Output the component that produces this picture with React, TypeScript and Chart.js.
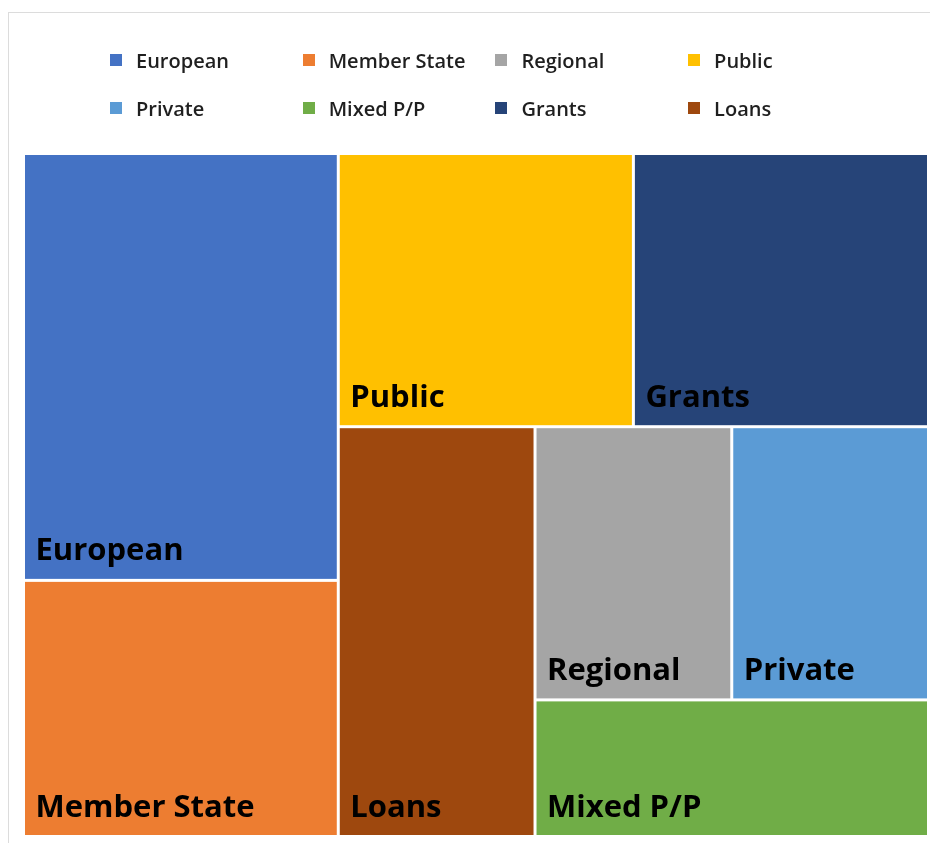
import React, { useEffect, useRef } from "react";
import { Chart, registerables } from "chart.js";

Chart.register(...registerables);

// ---- data ----
const categories = ["European", "Member State", "Regional", "Public", "Private", "Mixed P/P", "Grants", "Loans"];
const values = [25, 15, 10, 15, 10, 10, 15, 15];
const colors = ["#4472C4", "#ED7D31", "#A5A5A5", "#FFC000", "#5B9BD5", "#70AD47", "#264478", "#9E480E"];
// number of items placed in each successive strip of the treemap
const stripSizes = [2, 2, 1, 2, 1];

type Cell = { i: number; x0: number; x1: number; y0: number; y1: number };

function treemapLayout(vals: number[], W: number, H: number): Cell[] {
  const order = vals.map((_, i) => i).sort((a, b) => vals[b] - vals[a] || a - b);
  let remaining = vals.reduce((s, v) => s + v, 0);
  let x = 0, y = 0, w = W, h = H;
  let k = 0;
  const cells: Cell[] = [];
  for (const s of stripSizes) {
    const items = order.slice(k, k + s);
    k += s;
    if (!items.length) break;
    const stripSum = items.reduce((acc, i) => acc + vals[i], 0);
    const frac = stripSum / remaining;
    if (w >= h) {
      const sw = w * frac;
      let yy = y;
      for (const i of items) {
        const ih = (h * vals[i]) / stripSum;
        cells.push({ i, x0: x, x1: x + sw, y0: yy, y1: yy + ih });
        yy += ih;
      }
      x += sw;
      w -= sw;
    } else {
      const sh = h * frac;
      let xx = x;
      for (const i of items) {
        const iw = (w * vals[i]) / stripSum;
        cells.push({ i, x0: xx, x1: xx + iw, y0: y, y1: y + sh });
        xx += iw;
      }
      y += sh;
      h -= sh;
    }
    remaining -= stripSum;
  }
  // normalise to 0..100 scale units
  return cells.map((c) => ({
    i: c.i,
    x0: (c.x0 / W) * 100,
    x1: (c.x1 / W) * 100,
    y0: (c.y0 / H) * 100,
    y1: (c.y1 / H) * 100,
  }));
}

const treemapPlugin = {
  id: "treemapCells",
  beforeDatasetsDraw(chart: any) {
    const { ctx, chartArea, scales } = chart;
    const xs = scales.x;
    const ys = scales.y;
    const ds = chart.data.datasets[0];
    const vals: number[] = ds.treeValues;
    const labels: string[] = ds.treeLabels;
    const cols: string[] = ds.treeColors;
    const cells = treemapLayout(vals, chartArea.right - chartArea.left, chartArea.bottom - chartArea.top);
    const gap = 1.5;
    ctx.save();
    for (const c of cells) {
      const l = xs.getPixelForValue(c.x0);
      const r = xs.getPixelForValue(c.x1);
      const t = ys.getPixelForValue(c.y0);
      const b = ys.getPixelForValue(c.y1);
      ctx.fillStyle = cols[c.i];
      ctx.fillRect(l + gap, t + gap, r - l - 2 * gap, b - t - 2 * gap);
    }
    ctx.fillStyle = "#000000";
    ctx.font = "bold 31px 'Open Sans', sans-serif";
    ctx.textBaseline = "alphabetic";
    ctx.textAlign = "left";
    for (const c of cells) {
      const l = xs.getPixelForValue(c.x0);
      const b = ys.getPixelForValue(c.y1);
      ctx.fillText(labels[c.i], l + 12, b - 20);
    }
    ctx.restore();
  },
};

const legendCols = 4;

export default function App() {
  const canvasRef = useRef<HTMLCanvasElement | null>(null);

  useEffect(() => {
    if (!canvasRef.current) return;
    const chart = new Chart(canvasRef.current, {
      type: "scatter",
      data: {
        datasets: [
          {
            label: "Funding",
            data: [],
            treeValues: values,
            treeLabels: categories,
            treeColors: colors,
          } as any,
        ],
      },
      options: {
        animation: false,
        responsive: true,
        maintainAspectRatio: false,
        layout: { padding: { left: 23.5, right: 1.5, top: 153.5, bottom: 6.5 } },
        plugins: { legend: { display: false }, tooltip: { enabled: false } },
        scales: {
          x: { type: "linear", min: 0, max: 100, display: false },
          y: { type: "linear", min: 0, max: 100, reverse: true, display: false },
        },
      },
      plugins: [treemapPlugin],
    });
    return () => chart.destroy();
  }, []);

  return (
    <div
      style={{
        position: "fixed",
        left: 0,
        top: 0,
        width: 930,
        height: 843,
        background: "#ffffff",
        overflow: "hidden",
      }}
    >
      <div
        style={{
          position: "absolute",
          left: 8,
          top: 12,
          width: 940,
          height: 860,
          borderLeft: "1px solid #dcdcdc",
          borderTop: "1px solid #dcdcdc",
        }}
      />
      <div style={{ position: "absolute", left: 0, top: 0, width: 930, height: 843 }}>
        <canvas ref={canvasRef} />
      </div>
      {categories.map((name, i) => {
        const col = i % legendCols;
        const row = Math.floor(i / legendCols);
        const left = 110 + col * 192.7;
        const top = 54 + row * 48;
        return (
          <div key={name} style={{ position: "absolute", left, top, height: 12 }}>
            <div
              style={{
                position: "absolute",
                left: 0,
                top: 0,
                width: 12,
                height: 12,
                background: colors[i],
              }}
            />
            <span
              style={{
                position: "absolute",
                left: 26,
                top: -3.5,
                whiteSpace: "nowrap",
                fontFamily: "'Open Sans', sans-serif",
                fontWeight: 600,
                fontSize: 20,
                lineHeight: "20px",
                color: "#1f1f1f",
              }}
            >
              {name}
            </span>
          </div>
        );
      })}
    </div>
  );
}
